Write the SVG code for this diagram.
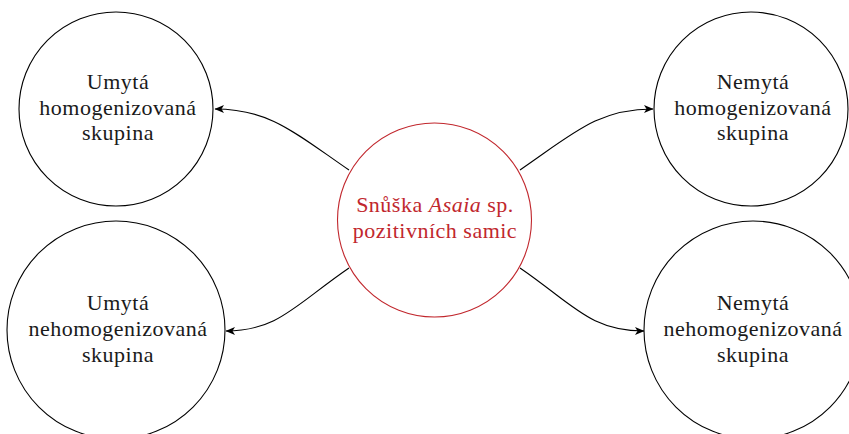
<svg xmlns="http://www.w3.org/2000/svg" width="849" height="434" viewBox="0 0 849 434">
<style>
.n{fill:#fff;stroke:#000;stroke-width:1.1}
.c{fill:#fff;stroke:#c1272d;stroke-width:1.1}
text{font-family:"Liberation Serif","DejaVu Serif",serif;font-size:22px;letter-spacing:0.5px;text-anchor:middle;fill:#1a1a1a}
.r{fill:#c1272d}
.e{fill:none;stroke:#000;stroke-width:1.1;marker-end:url(#ah)}
</style>
<defs>
<marker id="ah" markerWidth="10" markerHeight="8" refX="9" refY="4" orient="auto" markerUnits="userSpaceOnUse">
<path d="M0,0 L9.5,4 L0,8 L2.5,4 Z" fill="#000"/>
</marker>
</defs>
<g id="edges">
<path class="e" d="M349,170 C295,133 270,109 215,109"/>
<path class="e" d="M349,268 C295,305 278,331 226,331"/>
<path class="e" d="M520,170 C574,133 598,109 653,109"/>
<path class="e" d="M520,268 C574,305 590,331 644,331"/>
</g>
<g id="center">
<circle class="c" cx="434.5" cy="220" r="97"/>
<text class="r" x="435" y="212">Snůška <tspan font-style="italic">Asaia</tspan> sp.</text>
<text class="r" x="435" y="238">pozitivních samic</text>
</g>
<g id="tl">
<circle class="n" cx="116" cy="109" r="97"/>
<text x="118" y="89">Umytá</text>
<text x="118" y="115">homogenizovaná</text>
<text x="118" y="140">skupina</text>
</g>
<g id="bl">
<circle class="n" cx="116" cy="330" r="109"/>
<text x="118" y="310">Umytá</text>
<text x="118" y="336">nehomogenizovaná</text>
<text x="118" y="362">skupina</text>
</g>
<g id="tr">
<circle class="n" cx="751" cy="109" r="97"/>
<text x="753" y="89">Nemytá</text>
<text x="753" y="115">homogenizovaná</text>
<text x="753" y="140">skupina</text>
</g>
<g id="br">
<circle class="n" cx="753" cy="330" r="109"/>
<text x="753" y="310">Nemytá</text>
<text x="753" y="336">nehomogenizovaná</text>
<text x="753" y="362">skupina</text>
</g>
</svg>
